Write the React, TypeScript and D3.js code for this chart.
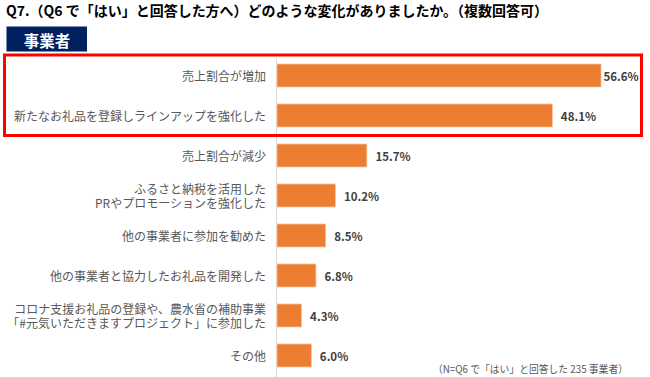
import React from "react";
import * as d3 from "d3";

const categories = [
  "売上割合が増加",
  "新たなお礼品を登録しラインアップを強化した",
  "売上割合が減少",
  "ふるさと納税を活用した\nPRやプロモーションを強化した",
  "他の事業者に参加を勧めた",
  "他の事業者と協力したお礼品を開発した",
  "コロナ支援お礼品の登録や、農水省の補助事業\n「#元気いただきますプロジェクト」に参加した",
  "その他",
];
const values = [56.6, 48.1, 15.7, 10.2, 8.5, 6.8, 4.3, 6.0];
const title = "Q7.（Q6 で「はい」と回答した方へ）どのような変化がありましたか。（複数回答可）";
const badge = "事業者";
const footnote = "（N=Q6 で「はい」と回答した 235 事業者）";
const highlighted = [0, 1];

const W = 650;
const H = 377;
const FONT = "'Noto Sans CJK JP', 'Noto Sans', sans-serif";

export default function App() {
  const x = d3.scaleLinear().domain([0, 60]).range([277, 620.5]);
  const y = d3
    .scaleBand<number>()
    .domain(categories.map((_, i) => i))
    .range([55.5, 375.5])
    .paddingInner(0.425)
    .paddingOuter(0.2125);
  const boxRight = 641.5;
  const hl0 = y(highlighted[0])! - 9;
  const hl1 = y(highlighted[highlighted.length - 1])! + y.bandwidth() + 8.5;

  return (
    <svg
      width={W}
      height={H}
      style={{ position: "absolute", left: 0, top: 0, background: "#fff" }}
      fontFamily={FONT}
    >
      <rect x={0} y={0} width={W} height={H} fill="#fff" />
      <text
        x={6}
        y={16}
        fontSize={14}
        fontWeight="bold"
        fill="#000"
        textLength={542}
        lengthAdjust="spacingAndGlyphs"
      >
        {title}
      </text>
      <rect x={6.5} y={26.5} width={80.5} height={25} fill="#002060" />
      <text
        x={47}
        y={39.5}
        fontSize={15.5}
        fontWeight="bold"
        fill="#fff"
        textAnchor="middle"
        dominantBaseline="central"
      >
        {badge}
      </text>
      <line x1={x(0) - 0.5} x2={x(0) - 0.5} y1={58} y2={H} stroke="#d9d9d9" strokeWidth={1} />
      {values.map((v, i) => {
        const by = y(i)!;
        const bw = y.bandwidth();
        const end = x(v);
        const lx = Math.min(end + 8.5, boxRight - 38);
        const lines = categories[i].split("\n");
        const cy = by + bw / 2;
        return (
          <g key={i}>
            <rect
              x={x(0)}
              y={by}
              width={end - x(0)}
              height={bw}
              fill="#ED7D31"
              stroke="#F6C3A0"
              strokeWidth={0.8}
            />
            <text
              x={lx}
              y={cy}
              fontSize={11.5}
              fontWeight="bold"
              fill="#404040"
              dominantBaseline="central"
            >
              {v.toFixed(1)}%
            </text>
            {lines.map((ln, j) => (
              <text
                key={j}
                x={266}
                y={cy + (j - (lines.length - 1) / 2) * 14.5}
                fontSize={12}
                fill="#595959"
                textAnchor="end"
                dominantBaseline="central"
              >
                {ln}
              </text>
            ))}
          </g>
        );
      })}
      <rect
        x={4.5}
        y={hl0}
        width={boxRight - 4.5}
        height={hl1 - hl0}
        fill="none"
        stroke="#FF0000"
        strokeWidth={3}
      />
      <text
        x={628}
        y={368}
        fontSize={10.5}
        fill="#595959"
        textAnchor="end"
        dominantBaseline="central"
        textLength={195}
        lengthAdjust="spacingAndGlyphs"
      >
        {footnote}
      </text>
    </svg>
  );
}
